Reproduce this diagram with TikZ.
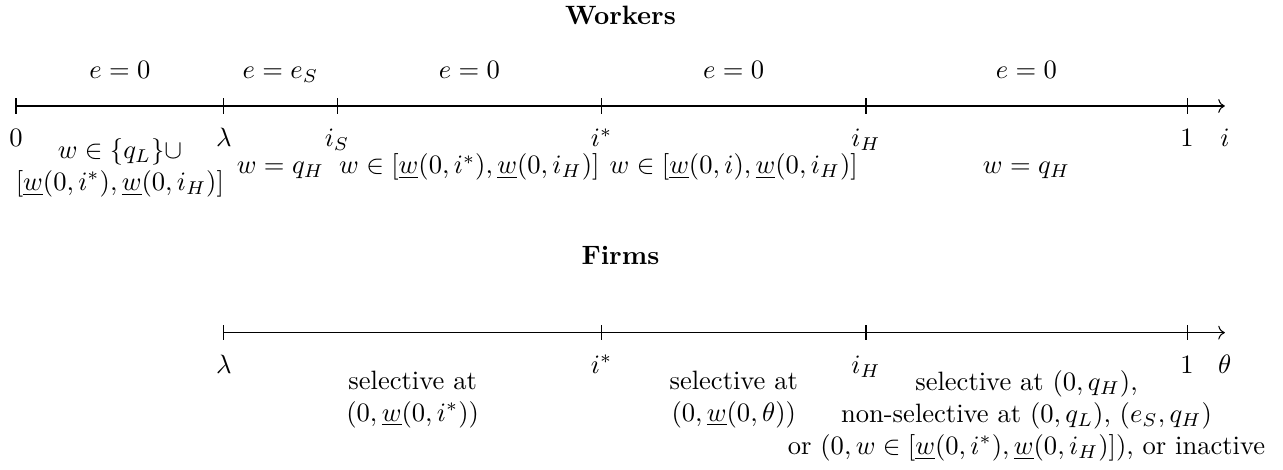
\documentclass[tikz,border=0pt]{standalone}
\usepackage{amsmath}
\usetikzlibrary{positioning, arrows.meta}
\tikzset{
    axisline/.style={->},
    ticklabel/.style={anchor=north, text height=1.5ex, text depth=0.25ex},
    effort/.style={anchor=base},
    wage/.style={align=center},
    firm/.style={align=center, anchor=north},
    heading/.style={font=\bfseries}
}

\begin{document}
\begin{tikzpicture}
    \useasboundingbox (-0.212,-4.805) rectangle (16.77,1.403);

    % workers
    \node (wtitle) [heading] at (8,1.2) {Workers};
    \coordinate (w0) at (0,0);
    \coordinate (wlam) at (2.75,0);
    \coordinate (wiS) at (4.25,0);
    \coordinate (wistar) at (7.75,0);
    \coordinate (wiH) at (11.25,0);
    \coordinate (w1) at (15.5,0);
    \coordinate (wend) at (16,0);
    \draw[axisline] (w0) -- (wend);
    \foreach \c in {w0,wlam,wiS,wistar,wiH,w1}
        \draw (\c) ++(0,0.1) -- ++(0,-0.2);

    \node (lw0) [ticklabel, below=0.19cm of w0] {$0$};
    \node (lwlam) [ticklabel, below=0.19cm of wlam] {$\lambda$};
    \node (lwiS) [ticklabel, below=0.19cm of wiS] {$i_S$};
    \node (lwistar) [ticklabel, below=0.19cm of wistar] {$i^*$};
    \node (lwiH) [ticklabel, below=0.19cm of wiH] {$i_H$};
    \node (lw1) [ticklabel, below=0.19cm of w1] {$1$};
    \node (lwend) [ticklabel, below=0.19cm of wend] {$i$};

    \node (e1) [effort] at (1.375,0.37) {$e=0$};
    \node (e2) [effort] at (3.5,0.37) {$e=e_S$};
    \node (e3) [effort] at (6,0.37) {$e=0$};
    \node (e4) [effort] at (9.5,0.37) {$e=0$};
    \node (e5) [effort] at (13.375,0.37) {$e=0$};

    \node (wg1) [wage] at (1.375,-0.82) {$w\in\{q_L\}\cup$\\$[\underline{w}(0,i^*),\underline{w}(0,i_H)]$};
    \node (wg2) [wage, anchor=base] at (3.5,-0.9) {$w=q_H$};
    \node (wg3) [wage, anchor=base] at (6,-0.9) {$w\in[\underline{w}(0,i^*),\underline{w}(0,i_H)]$};
    \node (wg4) [wage, anchor=base] at (9.5,-0.9) {$w\in[\underline{w}(0,i),\underline{w}(0,i_H)]$};
    \node (wg5) [wage, anchor=base] at (13.375,-0.9) {$w=q_H$};

    % firms
    \node (ftitle) [heading] at (8,-1.98) {Firms};
    \coordinate (flam) at (2.75,-3);
    \coordinate (fistar) at (7.75,-3);
    \coordinate (fiH) at (11.25,-3);
    \coordinate (f1) at (15.5,-3);
    \coordinate (fend) at (16,-3);
    \draw[axisline] (flam) -- (fend);
    \foreach \c in {flam,fistar,fiH,f1}
        \draw (\c) ++(0,0.1) -- ++(0,-0.2);

    \node (lflam) [ticklabel, below=0.19cm of flam] {$\lambda$};
    \node (lfistar) [ticklabel, below=0.19cm of fistar] {$i^*$};
    \node (lfiH) [ticklabel, below=0.19cm of fiH] {$i_H$};
    \node (lf1) [ticklabel, below=0.19cm of f1] {$1$};
    \node (lfend) [ticklabel, below=0.19cm of fend] {$\theta$};

    \node (fs1) [firm] at (5.25,-3.38) {selective at\\$(0,\underline{w}(0,i^*))$};
    \node (fs2) [firm] at (9.5,-3.38) {selective at\\$(0,\underline{w}(0,\theta))$};
    \node (fs3) [firm] at (13.375,-3.38) {selective at $(0,q_H)$,\\non-selective at $(0,q_L)$, $(e_S,q_H)$\\or $(0,w\in[\underline{w}(0,i^*),\underline{w}(0,i_H)])$, or inactive};
\end{tikzpicture}
\end{document}
